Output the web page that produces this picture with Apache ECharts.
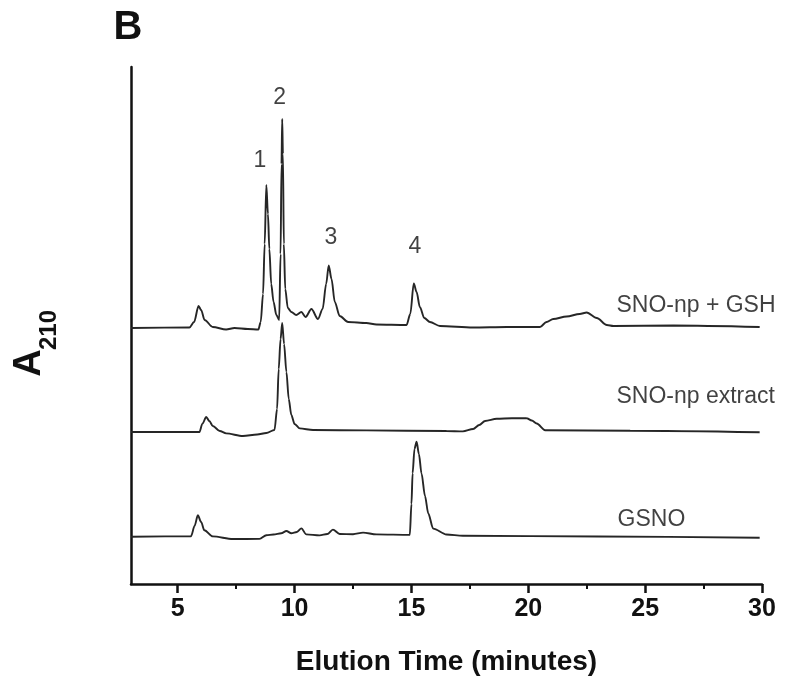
<!DOCTYPE html>
<html>
<head>
<meta charset="utf-8">
<title>Elution profile</title>
<script src="https://cdn.jsdelivr.net/npm/echarts@6/dist/echarts.min.js"></script>
<style>
    html, body { margin: 0; padding: 0; background: #fff; }
    #chart { width: 800px; height: 693px; }
</style>
</head>
<body>
<div id="chart"></div>
<script>
    // elution time (min) vs A210 (arbitrary units, traces offset vertically)
    var gshTrace = [
        [3.0, 256], [5.5, 256.5], [5.7, 262], [5.89, 278], [6.0, 274], [6.15, 264], [6.5, 257],
        [7.07, 254.5], [7.43, 256], [8.0, 255], [8.45, 254.5], [8.55, 262], [8.65, 290], [8.72, 340],
        [8.79, 399], [8.86, 370], [8.92, 335], [9.0, 300], [9.1, 282], [9.22, 269], [9.34, 264],
        [9.4, 330], [9.44, 420], [9.47, 465], [9.5, 430], [9.54, 340], [9.6, 295], [9.71, 276],
        [9.86, 272], [10.07, 269], [10.29, 272], [10.47, 267], [10.72, 275], [11.0, 265], [11.2, 275],
        [11.35, 300], [11.46, 318.5], [11.58, 305], [11.72, 282], [11.93, 268], [12.29, 262],
        [13.07, 261], [13.5, 259.5], [14.79, 259], [14.95, 270], [15.1, 300.5], [15.22, 292],
        [15.36, 277], [15.55, 266], [15.79, 262], [16.22, 258], [17.63, 256.5], [19.08, 257],
        [20.5, 257], [20.78, 262], [21.07, 265], [21.64, 267.5], [22.2, 270], [22.5, 271.5],
        [22.93, 266], [23.36, 259], [23.64, 258], [26.21, 258.5], [29.9, 257]
    ];
    var extractTrace = [
        [3.0, 152], [5.93, 152], [6.05, 160], [6.22, 167], [6.35, 163], [6.5, 158], [6.8, 153],
        [7.07, 150.6], [7.79, 148], [8.4, 149.5], [8.79, 151], [9.14, 154], [9.25, 175], [9.32, 215],
        [9.4, 245], [9.47, 261], [9.55, 240], [9.65, 212], [9.75, 185], [9.86, 169], [10.0, 160],
        [10.22, 155.6], [10.79, 154], [13.07, 153.6], [16.5, 153], [17.2, 152.6], [17.64, 155],
        [17.9, 159], [18.15, 163], [18.65, 165.2], [19.3, 165.8], [19.93, 165.7], [20.15, 163.5],
        [20.36, 160.5], [20.72, 153.8], [24.36, 153.2], [29.9, 151.7]
    ];
    var gsnoTrace = [
        [3.0, 47.3], [5.57, 47.8], [5.72, 58], [5.86, 68.7], [6.0, 62], [6.14, 53.7], [6.5, 47.6],
        [7.36, 45], [8.5, 45.1], [8.79, 48.8], [9.1, 49.5], [9.43, 50.8], [9.65, 53], [9.86, 50.7],
        [10.1, 52], [10.29, 55.6], [10.5, 49.6], [11.07, 48.6], [11.4, 50], [11.64, 54.4], [11.93, 50],
        [12.5, 49.8], [12.93, 51.4], [13.5, 49.6], [14.93, 49.1], [15.0, 80], [15.05, 110.8],
        [15.13, 135], [15.22, 142.4], [15.32, 130], [15.43, 110.6], [15.58, 88], [15.72, 70.5],
        [15.93, 55.4], [16.5, 49.5], [17.2, 48.3], [23.0, 47.5], [29.9, 46.3]
    ];

    var traceNames = ['SNO-np + GSH', 'SNO-np extract', 'GSNO'];
    var traceLabelAt = [[23.75, 278], [23.75, 187], [23.8, 64]];

    var peakNames = ['1', '2', '3', '4'];
    var peakLabelAt = [[8.51, 423], [9.36, 486], [11.55, 346], [15.15, 337]];

    var majorTicks = [5, 10, 15, 20, 25, 30];
    var minorTicks = [7.5, 12.5, 17.5, 22.5, 27.5];

    var font = '"Liberation Sans", Arial, Helvetica, sans-serif';
    var ink = '#111';

    var chart = echarts.init(document.getElementById('chart'));

    function trace(name, data) {
        return {
            name: name,
            type: 'line',
            data: data,
            symbol: 'none',
            silent: true,
            smooth: 0.3,
            smoothMonotone: 'x',
            lineStyle: { color: '#262626', width: 1.9 }
        };
    }

    function textMarks(names, at, position) {
        return {
            type: 'scatter',
            symbolSize: 1,
            itemStyle: { color: 'rgba(0,0,0,0)' },
            silent: true,
            data: names.map(function (n, i) {
                return { value: [at[i][0], at[i][1]], name: n };
            }),
            label: {
                show: true,
                position: position,
                distance: 0,
                formatter: '{b}',
                color: ink,
                fontFamily: font,
                fontSize: 23
            }
        };
    }

    chart.setOption({
        animation: false,
        grid: { left: 131, right: 38, top: 67, bottom: 109 },
        xAxis: [
            {
                type: 'value',
                min: 3,
                max: 30,
                name: 'Elution Time (minutes)',
                nameLocation: 'middle',
                nameGap: 64,
                nameTextStyle: { color: ink, fontFamily: font, fontSize: 28, fontWeight: 'bold' },
                axisLine: { lineStyle: { color: ink, width: 2.5 } },
                axisTick: { customValues: majorTicks, length: 9, lineStyle: { color: ink, width: 2.5 } },
                axisLabel: {
                    customValues: majorTicks,
                    margin: 13,
                    color: ink,
                    fontFamily: font,
                    fontSize: 25,
                    fontWeight: 'bold'
                },
                splitLine: { show: false }
            },
            {
                type: 'value',
                min: 3,
                max: 30,
                position: 'bottom',
                axisLine: { show: false },
                axisTick: { customValues: minorTicks, length: 5, lineStyle: { color: ink, width: 2 } },
                axisLabel: { show: false },
                splitLine: { show: false }
            }
        ],
        yAxis: {
            type: 'value',
            min: 0,
            max: 517,
            axisLine: { show: true, lineStyle: { color: ink, width: 2.5 } },
            axisTick: { show: false },
            axisLabel: { show: false },
            splitLine: { show: false }
        },
        graphic: [
            {
                type: 'text',
                x: 128, y: 28,
                style: { text: 'B', fill: ink, font: 'bold 40px ' + font, align: 'center', verticalAlign: 'middle' }
            },
            {
                type: 'text',
                x: 30, y: 363, rotation: Math.PI / 2,
                style: { text: 'A', fill: ink, font: 'bold 38px ' + font, align: 'center', verticalAlign: 'middle' }
            },
            {
                type: 'text',
                x: 49, y: 330, rotation: Math.PI / 2,
                style: { text: '210', fill: ink, font: 'bold 24px ' + font, align: 'center', verticalAlign: 'middle' }
            }
        ],
        series: [
            trace(traceNames[0], gshTrace),
            trace(traceNames[1], extractTrace),
            trace(traceNames[2], gsnoTrace),
            textMarks(traceNames, traceLabelAt, 'right'),
            textMarks(peakNames, peakLabelAt, 'inside')
        ]
    });
</script>
</body>
</html>
